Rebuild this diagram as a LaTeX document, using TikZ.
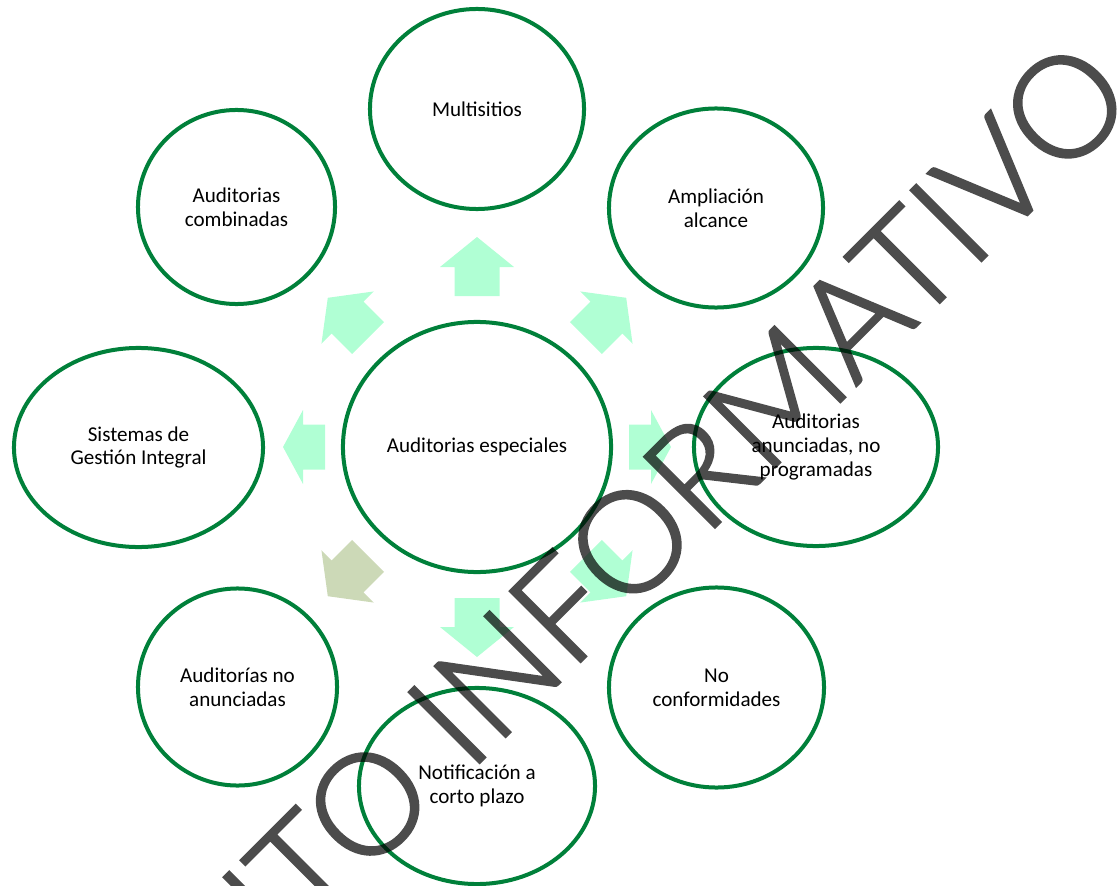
\documentclass[tikz,border=0pt]{standalone}
\usepackage{fontspec}
\setmainfont{Carlito}
\newfontfamily\stampfont{Lato Light}[FakeBold=2]
\usetikzlibrary{shapes.geometric}

\definecolor{ringgreen}{RGB}{0,128,58}
\definecolor{mint}{RGB}{176,255,212}
\definecolor{sage}{RGB}{204,217,183}

\tikzset{
  bubble/.style 2 args={ellipse, draw=ringgreen, line width=0.1cm, fill=white,
    minimum width=#1*0.05cm, minimum height=#2*0.05cm, inner sep=0pt,
    align=center, font=\fontsize{15}{17}\selectfont},
  stamp/.style={rotate=45, anchor=base east, inner sep=0pt,
    font=\stampfont\fontsize{100}{100}\selectfont, text=black}
}

% block arrow pointing away from the hub: angle, shaft start, head start, tip, colour
\newcommand{\spoke}[5]{%
  \begin{scope}[shift={(hub.center)}, rotate=#1]
    \fill[#5] (#2,-22.5) -- (#3,-22.5) -- (#3,-37) -- (#4,0) -- (#3,37)
      -- (#3,22.5) -- (#2,22.5) -- cycle;
  \end{scope}}

\begin{document}
\begin{tikzpicture}[x=0.025cm, y=-0.025cm]
  \useasboundingbox (0,0) rectangle (1118,886);
  \clip (0,0) rectangle (1118,886);

  % hub
  \node[bubble={134}{125}] (hub) at (477,447) {Auditorias especiales};

  % spokes
  \spoke{90}{151}{180}{210}{mint}
  \spoke{45}{154}{183}{211}{mint}
  \spoke{0}{152}{174}{194}{mint}
  \spoke{-45}{154}{183}{211}{mint}
  \spoke{-90}{151}{180}{210}{mint}
  \spoke{-135}{154}{183}{211}{sage}
  \spoke{180}{152}{174}{194}{mint}
  \spoke{135}{154}{183}{211}{mint}

  % satellites
  \node[bubble={107}{100}] (multi) at (477,109) {Multisitios};
  \node[bubble={107}{99.5}] (ampl) at (716,208) {Ampliación\\alcance};
  \node[bubble={122}{99}] (anun) at (816,447) {Auditorias\\anunciadas, no\\programadas};
  \node[bubble={107.5}{100}] (noconf) at (716.5,687.5) {No\\conformidades};
  \node[bubble={118}{98}] (notif) at (477,786) {Notificación a\\corto plazo};
  \node[bubble={99.5}{98.5}] (noanun) at (237.5,687) {Auditorías no\\anunciadas};
  \node[bubble={124.5}{99.5}] (sgi) at (138.5,447.5) {Sistemas de\\Gestión Integral};
  \node[bubble={98.5}{97}] (comb) at (236.5,207) {Auditorias\\combinadas};

  % overlaid stamp, composited as one translucent layer
  \begin{scope}[transparency group, opacity=0.7]
    \node[stamp] (mark) at (1139,103) {ITO INFORMATIVO};
  \end{scope}
\end{tikzpicture}
\end{document}
